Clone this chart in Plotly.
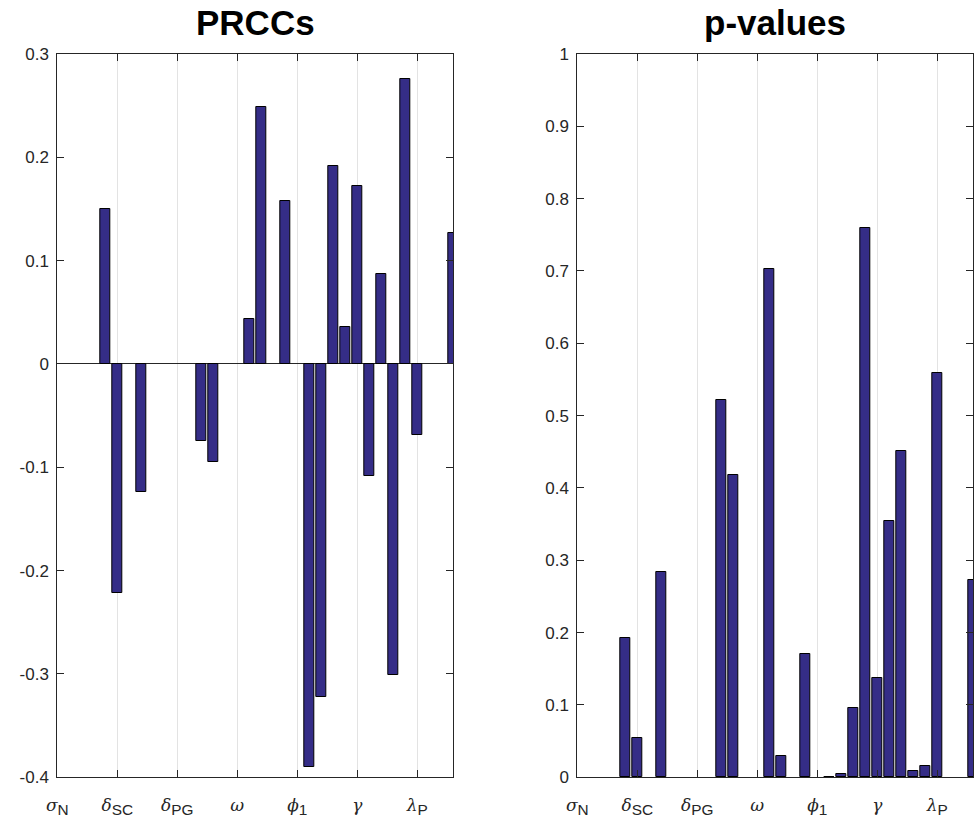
import plotly.graph_objects as go

# ---- data ----
bar_index = list(range(1, 35))
prcc_values = [None, None, None, None, 0.150, -0.222, None, -0.124, None, None,
               None, None, -0.075, -0.095, None, None, 0.044, 0.249, None, 0.158,
               None, -0.390, -0.322, 0.192, 0.036, 0.172, -0.108, 0.087, -0.301, 0.276,
               -0.069, None, None, 0.127]
p_values = [None, None, None, None, 0.192, 0.055, None, 0.284, None, None,
            None, None, 0.522, 0.418, None, None, 0.703, 0.030, None, 0.171,
            None, 0.001, 0.005, 0.096, 0.759, 0.137, 0.355, 0.451, 0.009, 0.016,
            0.559, None, None, 0.273]
param_ticks = [1, 6, 11, 16, 21, 26, 31]
G = "<span style=\"font-family:'DejaVu Serif';font-style:italic;font-size:17px\">%s</span>"
param_labels = [G % "σ" + "<sub>N</sub>", G % "δ" + "<sub>SC</sub>", G % "δ" + "<sub>PG</sub>",
                G % "ω", G % "ϕ" + "<sub>1</sub>", G % "γ", G % "λ" + "<sub>P</sub>"]
prcc_ytick_vals = [-0.4, -0.3, -0.2, -0.1, 0, 0.1, 0.2, 0.3]
prcc_ytick_text = ["-0.4", "-0.3", "-0.2", "-0.1", "0", "0.1", "0.2", "0.3"]
p_ytick_vals = [0, 0.1, 0.2, 0.3, 0.4, 0.5, 0.6, 0.7, 0.8, 0.9, 1]
p_ytick_text = ["0", "0.1", "0.2", "0.3", "0.4", "0.5", "0.6", "0.7", "0.8", "0.9", "1"]
titles = ["PRCCs", "p-values"]

BAR = "rgb(53,45,135)"
AX = "#262626"
W, H = 979, 818
FONT = "Liberation Sans, Arial, sans-serif"

fig = go.Figure()
fig.add_trace(go.Bar(x=bar_index, y=prcc_values, width=0.8, marker=dict(color=BAR, line=dict(color="black", width=1)),
                     xaxis="x", yaxis="y", showlegend=False))
fig.add_trace(go.Bar(x=bar_index, y=p_values, width=0.8, marker=dict(color=BAR, line=dict(color="black", width=1)),
                     xaxis="x2", yaxis="y2", showlegend=False))


def xax(domain, anchor):
    return dict(domain=domain, anchor=anchor, range=[1, 34], tickmode="array", tickvals=param_ticks,
                ticktext=param_labels, ticks="inside", ticklen=7, tickcolor=AX, showline=True, linecolor=AX,
                linewidth=1, mirror="ticks", showgrid=True, gridcolor="#e3e3e3", gridwidth=1, zeroline=False,
                tickfont=dict(family=FONT, size=22, color=AX), ticklabelstandoff=6, automargin=False)


def yax(domain, anchor, rng, vals, text, zl):
    return dict(domain=domain, anchor=anchor, range=rng, tickmode="array", tickvals=vals, ticktext=text,
                ticks="inside", ticklen=7, tickcolor=AX, showline=True, linecolor=AX, linewidth=1,
                mirror="ticks", showgrid=False, zeroline=zl, zerolinecolor=AX, zerolinewidth=1,
                tickfont=dict(family=FONT, size=17, color=AX), ticklabelstandoff=4, automargin=False)


yd = [(H - 777.3) / H, (H - 54) / H]
x1d = [57.3 / W, 453.3 / W]
x2d = [577.3 / W, 973.3 / W]

fig.update_layout(
    width=W, height=H, margin=dict(l=0, r=0, t=0, b=0),
    paper_bgcolor="white", plot_bgcolor="white", bargap=0,
    xaxis=xax(x1d, "y"), yaxis=yax(yd, "x", [-0.4, 0.3], prcc_ytick_vals, prcc_ytick_text, True),
    xaxis2=xax(x2d, "y2"), yaxis2=yax(yd, "x2", [0, 1], p_ytick_vals, p_ytick_text, False),
    annotations=[
        dict(text="<b>%s</b>" % titles[0], x=(x1d[0] + x1d[1]) / 2, y=(H - 44) / H, xref="paper", yref="paper",
             xanchor="center", yanchor="bottom", showarrow=False,
             font=dict(family=FONT, size=35, color="black")),
        dict(text="<b>%s</b>" % titles[1], x=(x2d[0] + x2d[1]) / 2, y=(H - 44) / H, xref="paper", yref="paper",
             xanchor="center", yanchor="bottom", showarrow=False,
             font=dict(family=FONT, size=35, color="black")),
    ],
)

fig.write_html("out.html")
